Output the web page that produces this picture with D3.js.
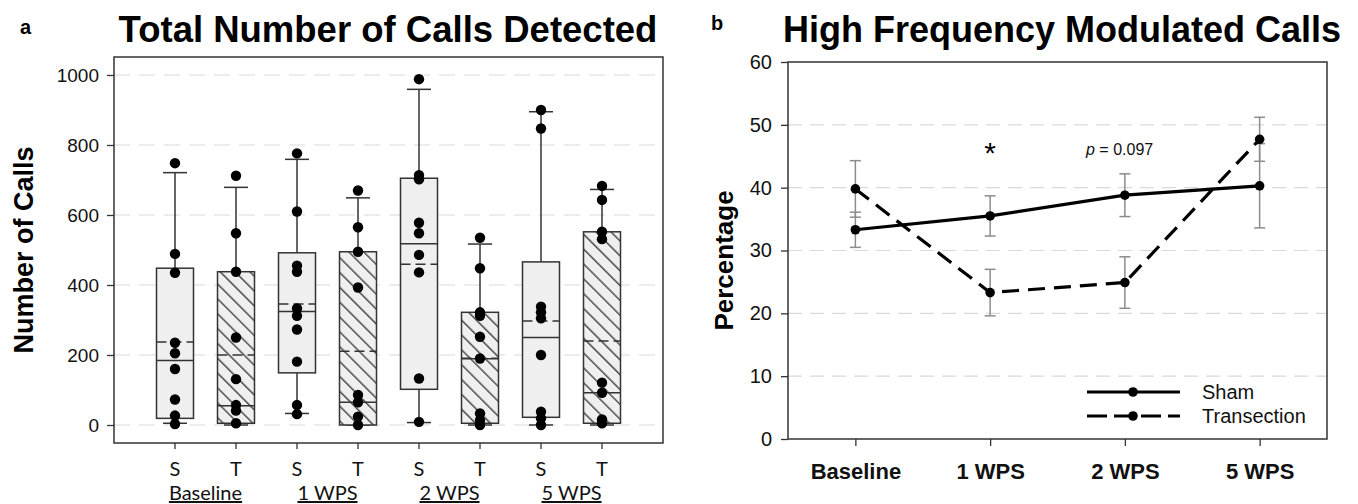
<!DOCTYPE html>
<html>
<head>
<meta charset="utf-8">
<script src="https://cdn.jsdelivr.net/npm/d3@7"></script>
<style>
  body { margin: 0; background: #fff; }
  svg { display: block; }
</style>
</head>
<body>
<div id="chart"></div>
<script>
// ---- panel a data (box plots, number of calls) ----
const groups = ["Baseline", "1 WPS", "2 WPS", "5 WPS"];
const conditions = ["S", "T"];
const boxQ1 = [19, 5, 149, 0, 102, 5, 22, 5];
const boxQ3 = [448, 438, 492, 495, 705, 322, 466, 552];
const boxMedian = [184, 55, 324, 65, 518, 189, 250, 92];
const boxMean = [237, 200, 346, 211, 459, 191, 297, 240];
const whiskerLow = [5, 0, 33, 0, 7, 0, 0, 0];
const whiskerHigh = [721, 679, 759, 649, 959, 517, 895, 673];
const boxPoints = [
  [748, 489, 435, 235, 205, 160, 73, 27, 3],
  [712, 548, 438, 250, 131, 57, 41, 5],
  [776, 610, 455, 438, 333, 312, 273, 181, 57, 31],
  [670, 565, 495, 393, 86, 65, 24, 0],
  [988, 714, 702, 578, 548, 486, 436, 133, 9],
  [535, 448, 322, 312, 252, 190, 33, 14, 0],
  [900, 847, 338, 322, 305, 200, 38, 19, 0],
  [683, 643, 552, 531, 121, 92, 16, 5]
];
const callTicks = [0, 200, 400, 600, 800, 1000];

// ---- panel b data (percentage of high frequency modulated calls) ----
const timepoints = ["Baseline", "1 WPS", "2 WPS", "5 WPS"];
const shamMean = [33.3, 35.5, 38.8, 40.3];
const shamErr = [2.8, 3.2, 3.4, 6.7];
const transMean = [39.8, 23.3, 24.9, 47.7];
const transErr = [4.5, 3.7, 4.1, 3.5];
const pctTicks = [0, 10, 20, 30, 40, 50, 60];

const width = 1358, height = 504;
const arial = "'Liberation Sans', Arial, sans-serif";
const calibri = "Lato, 'Open Sans', sans-serif";

const svg = d3.select('#chart')
  .append('svg')
  .attr('width', width)
  .attr('height', height);

// hatch pattern for the transection boxes
const defs = svg.append('defs');
defs.append('pattern')
  .attr('id', 'hatch')
  .attr('patternUnits', 'userSpaceOnUse')
  .attr('width', 10.5)
  .attr('height', 10.5)
  .attr('patternTransform', 'rotate(45)')
  .call(p => {
    p.append('rect').attr('width', 10.5).attr('height', 10.5).attr('fill', '#efefef');
    p.append('line').attr('x1', 0).attr('x2', 10.5).attr('y1', 5).attr('y2', 5)
      .attr('stroke', '#333').attr('stroke-width', 1.3);
  });

// ================= panel a =================
const aLeft = 114, aRight = 663, aTop = 57, aBottom = 443;
const boxKeys = [];
groups.forEach(g => conditions.forEach(c => boxKeys.push(g + '|' + c)));

const xA = d3.scalePoint().domain(boxKeys).range([aLeft, aRight]).padding(1);
const yA = d3.scaleLinear().domain([-51.4, 1051.4]).range([aBottom, aTop]);

const gA = svg.append('g');

// dashed grid
gA.selectAll('.grid').data(callTicks).enter().append('line')
  .attr('x1', aLeft).attr('x2', aRight)
  .attr('y1', d => yA(d)).attr('y2', d => yA(d))
  .attr('stroke', '#d9d9d9').attr('stroke-width', 1.2)
  .attr('stroke-dasharray', '16,9');

// y axis
const axisA = gA.append('g')
  .attr('transform', `translate(${aLeft},0)`)
  .call(d3.axisLeft(yA).tickValues(callTicks).tickFormat(d3.format('d')).tickSize(7).tickPadding(8));
axisA.select('.domain').remove();
axisA.selectAll('line').attr('stroke', '#333').attr('stroke-width', 1.3);
axisA.selectAll('text').attr('font-family', arial).attr('font-size', 19).attr('fill', '#111');

// x ticks
gA.selectAll('.xt').data(boxKeys).enter().append('line')
  .attr('x1', d => xA(d)).attr('x2', d => xA(d))
  .attr('y1', aBottom).attr('y2', aBottom + 6)
  .attr('stroke', '#333').attr('stroke-width', 1.3);

const boxW = 37, capW = 24;
boxKeys.forEach((k, i) => {
  const cx = xA(k);
  const isT = k.endsWith('|T');
  const g = gA.append('g');
  // whiskers
  g.append('line').attr('x1', cx).attr('x2', cx)
    .attr('y1', yA(whiskerHigh[i])).attr('y2', yA(boxQ3[i]))
    .attr('stroke', '#333').attr('stroke-width', 1.5);
  g.append('line').attr('x1', cx).attr('x2', cx)
    .attr('y1', yA(whiskerLow[i])).attr('y2', yA(boxQ1[i]))
    .attr('stroke', '#333').attr('stroke-width', 1.5);
  [whiskerHigh[i], whiskerLow[i]].forEach(v => {
    g.append('line').attr('x1', cx - capW / 2).attr('x2', cx + capW / 2)
      .attr('y1', yA(v)).attr('y2', yA(v))
      .attr('stroke', '#333').attr('stroke-width', 1.5);
  });
  // box
  g.append('rect')
    .attr('x', cx - boxW / 2).attr('width', boxW)
    .attr('y', yA(boxQ3[i])).attr('height', yA(boxQ1[i]) - yA(boxQ3[i]))
    .attr('fill', isT ? 'url(#hatch)' : '#efefef')
    .attr('stroke', '#333').attr('stroke-width', 1.5);
  // median and mean
  g.append('line').attr('x1', cx - boxW / 2).attr('x2', cx + boxW / 2)
    .attr('y1', yA(boxMedian[i])).attr('y2', yA(boxMedian[i]))
    .attr('stroke', '#333').attr('stroke-width', 1.5);
  g.append('line').attr('x1', cx - boxW / 2).attr('x2', cx + boxW / 2)
    .attr('y1', yA(boxMean[i])).attr('y2', yA(boxMean[i]))
    .attr('stroke', '#333').attr('stroke-width', 1.5)
    .attr('stroke-dasharray', '10,5');
  // points
  g.selectAll('circle').data(boxPoints[i]).enter().append('circle')
    .attr('cx', cx).attr('cy', d => yA(d)).attr('r', 5.2)
    .attr('fill', '#000');
});

// frame
gA.append('rect')
  .attr('x', aLeft).attr('y', aTop)
  .attr('width', aRight - aLeft).attr('height', aBottom - aTop)
  .attr('fill', 'none').attr('stroke', '#333').attr('stroke-width', 1.5);

// x labels: S / T and group names
gA.selectAll('.cond').data(boxKeys).enter().append('text')
  .attr('x', d => xA(d)).attr('y', 476)
  .attr('text-anchor', 'middle')
  .attr('font-family', calibri).attr('font-size', 20).attr('fill', '#111')
  .text(d => d.split('|')[1]);
gA.selectAll('.grp').data(groups).enter().append('text')
  .attr('x', d => (xA(d + '|S') + xA(d + '|T')) / 2).attr('y', 500)
  .attr('text-anchor', 'middle')
  .attr('font-family', calibri).attr('font-size', 20).attr('fill', '#111')
  .attr('text-decoration', 'underline')
  .text(d => d);

// axis title + panel title
gA.append('text')
  .attr('transform', `translate(33,${(yA(0) + yA(1000)) / 2}) rotate(-90)`)
  .attr('text-anchor', 'middle')
  .attr('font-family', arial).attr('font-weight', 'bold').attr('font-size', 27)
  .text('Number of Calls');
gA.append('text')
  .attr('x', 388).attr('y', 42)
  .attr('text-anchor', 'middle')
  .attr('font-family', arial).attr('font-weight', 'bold').attr('font-size', 36.5)
  .text('Total Number of Calls Detected');
gA.append('text')
  .attr('x', 20).attr('y', 34)
  .attr('font-family', arial).attr('font-weight', 'bold').attr('font-size', 20)
  .text('a');

// ================= panel b =================
const bLeft = 788, bRight = 1327, bTop = 62, bBottom = 439;
const xB = d3.scalePoint().domain(timepoints).range([bLeft, bRight]).padding(0.5);
const yB = d3.scaleLinear().domain([0, 60]).range([bBottom, bTop]);

const gB = svg.append('g');

gB.selectAll('.grid').data(pctTicks.filter(d => d > 0 && d < 60)).enter().append('line')
  .attr('x1', bLeft).attr('x2', bRight)
  .attr('y1', d => yB(d)).attr('y2', d => yB(d))
  .attr('stroke', '#d9d9d9').attr('stroke-width', 1.2)
  .attr('stroke-dasharray', '14,8');

const axisB = gB.append('g')
  .attr('transform', `translate(${bLeft},0)`)
  .call(d3.axisLeft(yB).tickValues(pctTicks).tickSize(7).tickPadding(9));
axisB.select('.domain').remove();
axisB.selectAll('line').attr('stroke', '#333').attr('stroke-width', 1.3);
axisB.selectAll('text').attr('font-family', arial).attr('font-size', 20).attr('fill', '#111');

const axisBx = gB.append('g')
  .attr('transform', `translate(0,${bBottom})`)
  .call(d3.axisBottom(xB).tickSize(7).tickPadding(17));
axisBx.select('.domain').remove();
axisBx.selectAll('line').attr('stroke', '#333').attr('stroke-width', 1.3);
axisBx.selectAll('text').attr('font-family', arial).attr('font-weight', 'bold')
  .attr('font-size', 22).attr('fill', '#111');

// error bars
function errorBars(means, errs) {
  const eg = gB.append('g').attr('stroke', '#8c8c8c').attr('stroke-width', 1.5);
  timepoints.forEach((t, i) => {
    const cx = xB(t);
    eg.append('line').attr('x1', cx).attr('x2', cx)
      .attr('y1', yB(means[i] - errs[i])).attr('y2', yB(means[i] + errs[i]));
    [means[i] - errs[i], means[i] + errs[i]].forEach(v => {
      eg.append('line').attr('x1', cx - 5.5).attr('x2', cx + 5.5)
        .attr('y1', yB(v)).attr('y2', yB(v));
    });
  });
}
errorBars(shamMean, shamErr);
errorBars(transMean, transErr);

const line = d3.line().x((d, i) => xB(timepoints[i])).y(d => yB(d));
gB.append('path').datum(shamMean).attr('d', line)
  .attr('fill', 'none').attr('stroke', '#000').attr('stroke-width', 3.2);
gB.append('path').datum(transMean).attr('d', line)
  .attr('fill', 'none').attr('stroke', '#000').attr('stroke-width', 3.2)
  .attr('stroke-dasharray', '17,9');
[shamMean, transMean].forEach(series => {
  gB.append('g').selectAll('circle').data(series).enter().append('circle')
    .attr('cx', (d, i) => xB(timepoints[i])).attr('cy', d => yB(d)).attr('r', 4.8)
    .attr('fill', '#000');
});

gB.append('rect')
  .attr('x', bLeft).attr('y', bTop)
  .attr('width', bRight - bLeft).attr('height', bBottom - bTop)
  .attr('fill', 'none').attr('stroke', '#333').attr('stroke-width', 1.5);

// annotations
gB.append('text')
  .attr('x', xB('1 WPS')).attr('y', 163)
  .attr('text-anchor', 'middle')
  .attr('font-family', arial).attr('font-size', 30)
  .text('*');
const pText = gB.append('text')
  .attr('x', 1086).attr('y', 155)
  .attr('font-family', arial).attr('font-size', 16).attr('fill', '#111');
pText.append('tspan').attr('font-style', 'italic').text('p');
pText.append('tspan').text(' = 0.097');

// legend
const legend = gB.append('g');
const legendItems = [
  { label: 'Sham', y: 392, dash: null },
  { label: 'Transection', y: 416, dash: '20,7' }
];
legendItems.forEach(it => {
  legend.append('line')
    .attr('x1', 1087).attr('x2', 1180).attr('y1', it.y).attr('y2', it.y)
    .attr('stroke', '#000').attr('stroke-width', 3.2)
    .attr('stroke-dasharray', it.dash);
  legend.append('circle').attr('cx', 1133).attr('cy', it.y).attr('r', 4.8).attr('fill', '#000');
  legend.append('text')
    .attr('x', 1202).attr('y', it.y + 7)
    .attr('font-family', arial).attr('font-size', 20).attr('fill', '#111')
    .text(it.label);
});

// axis title + panel title
gB.append('text')
  .attr('transform', `translate(733,${(bTop + bBottom) / 2 + 10}) rotate(-90)`)
  .attr('text-anchor', 'middle')
  .attr('font-family', arial).attr('font-weight', 'bold').attr('font-size', 26)
  .text('Percentage');
gB.append('text')
  .attr('x', 1062).attr('y', 42)
  .attr('text-anchor', 'middle')
  .attr('font-family', arial).attr('font-weight', 'bold').attr('font-size', 36)
  .text('High Frequency Modulated Calls');
gB.append('text')
  .attr('x', 711).attr('y', 30)
  .attr('font-family', arial).attr('font-weight', 'bold').attr('font-size', 20)
  .text('b');
</script>
</body>
</html>
